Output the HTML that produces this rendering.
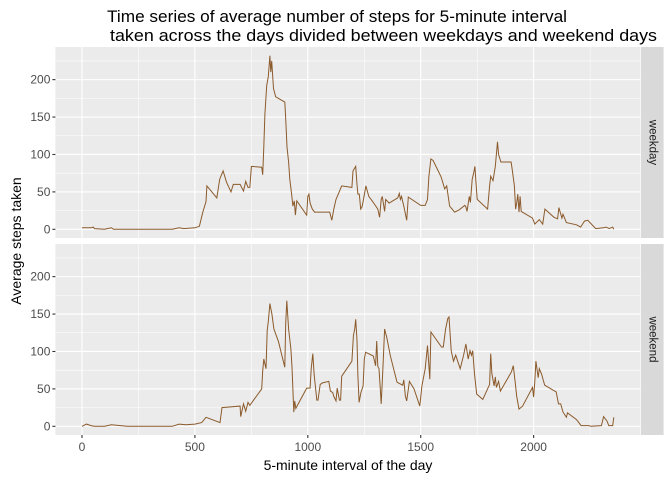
<!DOCTYPE html>
<html><head><meta charset="utf-8">
<style>
body{margin:0;background:#fff;}
svg{display:block;font-family:"Liberation Sans",Arial,sans-serif;}
</style></head>
<body>
<svg id="chart" width="672" height="480" viewBox="0 0 672 480" xmlns="http://www.w3.org/2000/svg">
<text x="107" y="22" font-size="17" fill="#000" textLength="460" lengthAdjust="spacingAndGlyphs">Time series of average number of steps for 5-minute interval</text>
<text x="110" y="41" font-size="17" fill="#000" textLength="547" lengthAdjust="spacingAndGlyphs">taken across the days divided between weekdays and weekend days</text>
<text transform="translate(21,241) rotate(-90)" text-anchor="middle" font-size="14" fill="#000">Average steps taken</text>
<text x="348" y="470" text-anchor="middle" font-size="14" fill="#000">5-minute interval of the day</text>
<g id="plots"></g>
</svg>
<script>
const xTicks = [0, 500, 1000, 1500, 2000];
const yTicks = [0, 50, 100, 150, 200];
const panelNames = ["weekday", "weekend"];
const weekdayIntervals = [0,40,50,55,100,130,140,200,300,400,430,450,500,520,535,549,553,597,610,625,640,660,670,700,715,725,735,743,750,796,800,805,810,818,825,832,836,840,848,858,898,902,908,915,920,928,934,940,945,951,995,1000,1005,1010,1020,1030,1044,1097,1106,1115,1125,1135,1150,1195,1200,1212,1218,1222,1228,1234,1240,1245,1257,1270,1290,1310,1318,1325,1330,1340,1345,1360,1398,1405,1410,1415,1425,1438,1445,1500,1520,1530,1536,1545,1555,1590,1606,1615,1628,1650,1670,1695,1700,1705,1715,1720,1728,1735,1740,1745,1750,1796,1805,1810,1820,1830,1840,1845,1855,1900,1905,1915,1920,1925,1930,1935,1940,1945,1995,2005,2025,2040,2050,2090,2106,2112,2125,2130,2145,2190,2208,2225,2240,2275,2310,2320,2335,2350,2355];
const weekdayValues = [2,2,3,1,0,2,0,0,0,0,2,1,2,4,23,37,58,42,67,78,63,50,60,60,51,64,56,56,84,83,73,110,154,192,204,232,210,225,188,177,170,148,110,90,67,47,31,38,19,38,19,44,47,35,27,23,23,23,12,27,40,47,58,56,78,84,60,47,47,27,30,37,58,44,36,27,16,40,44,24,40,35,42,48,40,44,31,12,43,32,32,40,71,94,92,70,54,58,31,23,26,32,30,24,44,36,67,76,84,60,40,27,58,71,65,84,117,100,90,90,80,58,27,35,47,23,44,24,15,7,13,7,27,16,14,29,15,20,9,6,3,11,12,1,2,3,1,3,0,0];
const weekendIntervals = [0,20,40,55,100,130,200,300,400,430,460,500,530,549,611,620,700,703,715,725,735,743,760,796,800,805,815,820,825,832,841,850,870,898,902,907,915,925,930,938,942,947,995,1010,1015,1022,1028,1040,1045,1055,1065,1093,1100,1110,1115,1125,1130,1140,1145,1150,1195,1202,1208,1212,1218,1222,1227,1235,1245,1250,1256,1290,1300,1305,1310,1315,1320,1325,1333,1340,1350,1365,1395,1420,1425,1432,1438,1450,1470,1496,1505,1520,1530,1540,1545,1592,1600,1610,1620,1625,1635,1645,1655,1675,1690,1700,1710,1718,1725,1730,1738,1748,1775,1805,1810,1815,1825,1830,1835,1845,1853,1902,1910,1920,1925,1935,1951,1995,2000,2005,2010,2020,2025,2035,2049,2100,2110,2120,2130,2145,2150,2190,2210,2245,2252,2300,2310,2325,2333,2350,2355];
const weekendValues = [0,3,1,0,0,2,0,0,0,3,2,3,5,12,5,25,27,13,30,20,32,28,35,50,74,90,77,128,140,164,150,130,113,79,137,168,130,103,79,19,34,24,51,51,77,97,70,35,35,56,58,60,47,45,40,34,51,35,35,67,87,121,131,143,115,67,32,45,54,90,99,94,81,114,80,77,54,30,80,130,118,95,59,55,62,40,34,60,50,27,54,77,108,63,126,106,106,130,144,146,101,87,95,77,95,110,90,101,95,101,70,43,36,56,97,70,54,66,52,60,47,73,81,54,40,23,27,52,39,60,87,65,77,70,55,46,30,30,19,12,18,9,1,1,0,1,13,7,1,1,12,0,0];

const NS = "http://www.w3.org/2000/svg";
const root = document.getElementById("plots");
const PX0 = 55.4, PX1 = 640.4, STRIP_W = 22.6;
const panels = [{top: 47, bottom: 238}, {top: 244, bottom: 435}];
const xMin = -117.75, xMax = 2472.75, yMin = -11.6, yMax = 243.6;
function xs(v){ return PX0 + (v - xMin) / (xMax - xMin) * (PX1 - PX0); }
function ys(v, p){ return p.bottom - (v - yMin) / (yMax - yMin) * (p.bottom - p.top); }
function mk(tag, attrs){ const e = document.createElementNS(NS, tag); for (const k in attrs) e.setAttribute(k, attrs[k]); root.appendChild(e); return e; }

const series = [[weekdayIntervals, weekdayValues], [weekendIntervals, weekendValues]];
panels.forEach((p, i) => {
  const bg = mk("rect", {x: PX0, y: p.top, width: PX1 - PX0, height: p.bottom - p.top, fill: "#ebebeb"});
  
  
  for (let k = 0; k < yTicks.length; k++) {
    const mv = yTicks[k] + 25;
    if (mv < yMax) {
      const ml = mk("line", {x1: PX0, x2: PX1, y1: ys(mv, p), y2: ys(mv, p), stroke: "#fff", "stroke-width": 0.55});
      
      
    }
  }
  for (let k = 0; k < xTicks.length; k++) {
    const mv = xTicks[k] + 250;
    if (mv < xMax) {
      const ml = mk("line", {x1: xs(mv), x2: xs(mv), y1: p.top, y2: p.bottom, stroke: "#fff", "stroke-width": 0.55});
      
      
    }
  }
  yTicks.forEach(t => {
    const g = mk("line", {x1: PX0, x2: PX1, y1: ys(t, p), y2: ys(t, p), stroke: "#fff", "stroke-width": 1.1});
    
    
    const tk = mk("line", {x1: PX0 - 3, x2: PX0, y1: ys(t, p), y2: ys(t, p), stroke: "#333", "stroke-width": 1.1});
    
    
    const lb = mk("text", {x: PX0 - 5, y: ys(t, p) + 4, "text-anchor": "end", "font-size": 12, fill: "#4d4d4d"});
    lb.textContent = t;
    
    
  });
  xTicks.forEach(t => {
    const g = mk("line", {x1: xs(t), x2: xs(t), y1: p.top, y2: p.bottom, stroke: "#fff", "stroke-width": 1.1});
    
    
  });
  const [ix, iv] = series[i];
  const pts = ix.map((x, k) => xs(x).toFixed(1) + "," + ys(iv[k], p).toFixed(1)).join(" ");
  const line = mk("polyline", {points: pts, fill: "none", stroke: "#8b5a2b", "stroke-width": 1});
  
  
  const st = mk("rect", {x: PX1 + 0.6, y: p.top, width: STRIP_W, height: p.bottom - p.top, fill: "#d9d9d9"});
  
  
  const cx = PX1 + 0.6 + STRIP_W / 2, cy = (p.top + p.bottom) / 2;
  const sl = mk("text", {x: cx, y: cy, transform: "rotate(90 " + cx + " " + cy + ")", "text-anchor": "middle", "dominant-baseline": "central", "font-size": 11.5, fill: "#1a1a1a"});
  sl.textContent = panelNames[i];
  
  
});
const pb = panels[1];
xTicks.forEach(t => {
  const tk = mk("line", {x1: xs(t), x2: xs(t), y1: pb.bottom, y2: pb.bottom + 3, stroke: "#333", "stroke-width": 1.1});
  
  
  const lb = mk("text", {x: xs(t), y: pb.bottom + 16, "text-anchor": "middle", "font-size": 12, fill: "#4d4d4d"});
  lb.textContent = t;
  
  
});
</script>
</body></html>
